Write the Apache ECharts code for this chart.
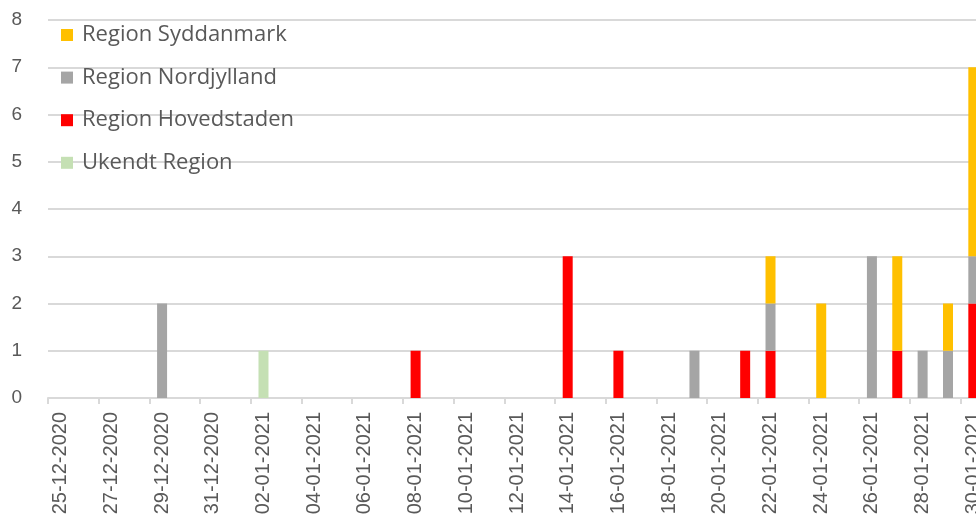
<!DOCTYPE html>
<html>
<head>
<meta charset="utf-8">
<script src="https://cdn.jsdelivr.net/npm/echarts@6/dist/echarts.min.js"></script>
<style>html,body{margin:0;padding:0;background:#fff;overflow:hidden;width:976px;height:518px}#c{width:986px;height:518px}</style>
</head>
<body>
<div id="c"></div>
<script>
const categories = [
  '25-12-2020','26-12-2020','27-12-2020','28-12-2020','29-12-2020','30-12-2020','31-12-2020',
  '01-01-2021','02-01-2021','03-01-2021','04-01-2021','05-01-2021','06-01-2021','07-01-2021',
  '08-01-2021','09-01-2021','10-01-2021','11-01-2021','12-01-2021','13-01-2021','14-01-2021',
  '15-01-2021','16-01-2021','17-01-2021','18-01-2021','19-01-2021','20-01-2021','21-01-2021',
  '22-01-2021','23-01-2021','24-01-2021','25-01-2021','26-01-2021','27-01-2021','28-01-2021',
  '29-01-2021','30-01-2021'
];
const ukendt      = [0,0,0,0,0,0,0, 0,1,0,0,0,0,0, 0,0,0,0,0,0,0, 0,0,0,0,0,0,0, 0,0,0,0,0,0,0, 0,0];
const hovedstaden = [0,0,0,0,0,0,0, 0,0,0,0,0,0,0, 1,0,0,0,0,0,3, 0,1,0,0,0,0,1, 1,0,0,0,0,1,0, 0,2];
const nordjylland = [0,0,0,0,2,0,0, 0,0,0,0,0,0,0, 0,0,0,0,0,0,0, 0,0,0,0,1,0,0, 1,0,0,0,3,0,1, 1,1];
const syddanmark  = [0,0,0,0,0,0,0, 0,0,0,0,0,0,0, 0,0,0,0,0,0,0, 0,0,0,0,0,0,0, 1,0,2,0,0,2,0, 1,4];
const yTicks = [0,1,2,3,4,5,6,7,8];

const chart = echarts.init(document.getElementById('c'), null, {renderer:'canvas'});
const txt = '#595959';
const grid = '#d9d9d9';
function bar(name, data, color){
  return {name, type:'bar', stack:'total', data, barWidth:10, itemStyle:{color}, animation:false};
}
chart.setOption({
  animation:false,
  backgroundColor:'#fff',
  grid:{left:48, top:20, right:0, bottom:120, containLabel:false},
  legend:{
    orient:'vertical', left:56, top:19,
    itemWidth:12, itemHeight:12, itemGap:20.6, icon:'rect',
    data:['Region Syddanmark','Region Nordjylland','Region Hovedstaden','Ukendt Region'],
    textStyle:{color:txt, fontSize:22, fontFamily:'Open Sans', lineHeight:20, padding:[0,0,0,4]}
  },
  xAxis:{
    type:'category', data:categories, boundaryGap:true,
    axisLine:{lineStyle:{color:grid, width:2}},
    axisTick:{show:true, interval:1, length:6, lineStyle:{color:grid, width:2}},
    axisLabel:{interval:1, rotate:90, color:txt, fontSize:20, fontFamily:'Liberation Sans', margin:14}
  },
  yAxis:{
    type:'value', min:yTicks[0], max:yTicks[yTicks.length-1], interval:1,
    axisLine:{show:false}, axisTick:{show:false},
    splitLine:{lineStyle:{color:grid, width:2}},
    axisLabel:{color:txt, fontSize:19, fontFamily:'Liberation Sans', margin:26}
  },
  series:[
    bar('Ukendt Region', ukendt, '#C5E0B4'),
    bar('Region Hovedstaden', hovedstaden, '#FF0000'),
    bar('Region Nordjylland', nordjylland, '#A5A5A5'),
    bar('Region Syddanmark', syddanmark, '#FFC000')
  ]
});
</script>
</body>
</html>
